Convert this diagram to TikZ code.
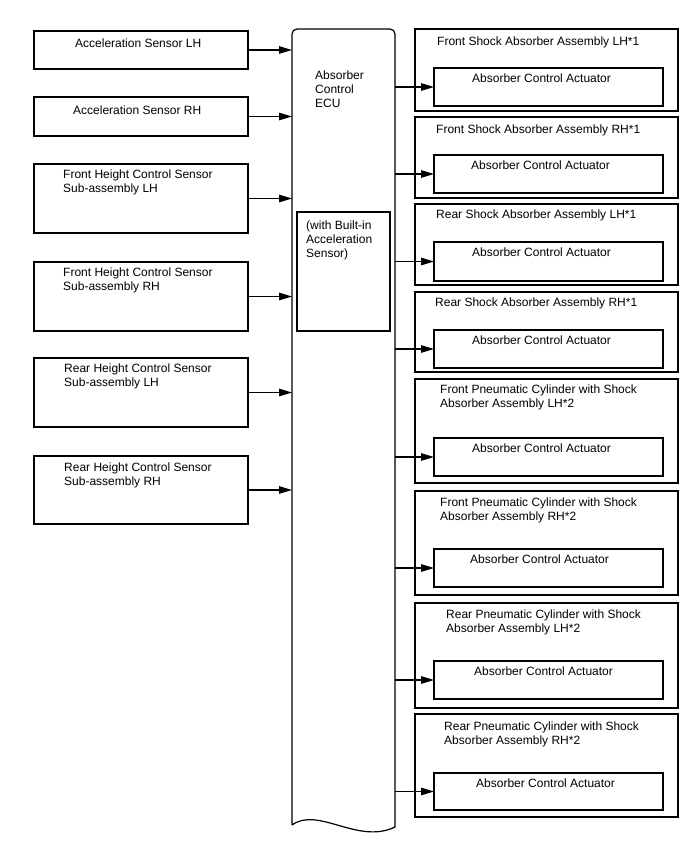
\documentclass[tikz,border=0pt]{standalone}
\usepackage{fontspec}
\setmainfont{Liberation Sans}
\usetikzlibrary{arrows.meta}
\begin{document}
\begin{tikzpicture}[x=1pt,y=-1pt,
  box/.style={draw, line width=1.2pt, anchor=north west, inner sep=0pt, outer sep=0pt},
  lbl/.style={anchor=base west, inner sep=0pt, align=left, font=\fontsize{12}{14}\selectfont},
  conn/.style={line width=1.2pt, -{Triangle[length=13pt,width=7.5pt]}}]
\useasboundingbox (0,0) rectangle (688,852);

% ECU
\node[inner sep=0pt, outer sep=0pt, minimum width=103pt, minimum height=796pt, anchor=north west] (ecu) at (292,29) {};
\coordinate (ecubr) at (395,827);
\coordinate (ecuc1) at (318,806);
\coordinate (ecuc2) at (358,845);
\draw[line width=1.2pt] (ecu.south west) [rounded corners=5pt] -- (ecu.north west) -- (ecu.north east) [sharp corners] -- (ecubr)
  .. controls (ecuc2) and (ecuc1) .. (ecu.south west);
\node[lbl] (tecu) at (315,107) {Absorber\\Control\\ECU};
\node[box, minimum width=93pt, minimum height=119pt] (bi) at (297,212) {};
\node[lbl] (tbi) at (306,257) {(with Built-in\\Acceleration\\Sensor)};

% Left boxes
\node[box, minimum width=214pt, minimum height=38pt] (L1) at (34,31) {};
\node[box, minimum width=214pt, minimum height=39pt] (L2) at (34,97) {};
\node[box, minimum width=214pt, minimum height=69pt] (L3) at (34,164) {};
\node[box, minimum width=214pt, minimum height=69pt] (L4) at (34,262) {};
\node[box, minimum width=214pt, minimum height=69pt] (L5) at (34,358) {};
\node[box, minimum width=214pt, minimum height=68pt] (L6) at (34,456) {};
\node[lbl] (tL1) at (75,47) {Acceleration Sensor LH};
\node[lbl] (tL2) at (73,114) {Acceleration Sensor RH};
\node[lbl] (tL3) at (63,192) {Front Height Control Sensor\\Sub-assembly LH};
\node[lbl] (tL4) at (63,290) {Front Height Control Sensor\\Sub-assembly RH};
\node[lbl] (tL5) at (64,386) {Rear Height Control Sensor\\Sub-assembly LH};
\node[lbl] (tL6) at (64,485) {Rear Height Control Sensor\\Sub-assembly RH};
\foreach \n in {L1,L2,L3,L4,L5,L6}
  \draw[conn] (\n.east) -- (\n.east -| ecu.west);

% Right boxes
\node[box, minimum width=263pt, minimum height=82pt] (R1) at (415,29) {};
\node[box, minimum width=263pt, minimum height=81pt] (R2) at (415,117) {};
\node[box, minimum width=263pt, minimum height=81pt] (R3) at (415,204) {};
\node[box, minimum width=263pt, minimum height=80pt] (R4) at (415,292) {};
\node[box, minimum width=263pt, minimum height=104pt] (R5) at (415,379) {};
\node[box, minimum width=263pt, minimum height=104pt] (R6) at (415,491) {};
\node[box, minimum width=263pt, minimum height=105pt] (R7) at (415,603) {};
\node[box, minimum width=263pt, minimum height=103pt] (R8) at (415,714) {};

\node[box, minimum width=229pt, minimum height=38pt] (A1) at (434,68) {};
\node[box, minimum width=229pt, minimum height=38pt] (A2) at (434,155) {};
\node[box, minimum width=229pt, minimum height=39pt] (A3) at (434,242) {};
\node[box, minimum width=229pt, minimum height=38pt] (A4) at (434,330) {};
\node[box, minimum width=229pt, minimum height=38pt] (A5) at (434,438) {};
\node[box, minimum width=229pt, minimum height=38pt] (A6) at (434,549) {};
\node[box, minimum width=229pt, minimum height=38pt] (A7) at (434,661) {};
\node[box, minimum width=229pt, minimum height=37pt] (A8) at (434,773) {};

\node[lbl] (tR1) at (437,45) {Front Shock Absorber Assembly LH*1};
\node[lbl] (tR2) at (436,133) {Front Shock Absorber Assembly RH*1};
\node[lbl] (tR3) at (436,218) {Rear Shock Absorber Assembly LH*1};
\node[lbl] (tR4) at (435,306) {Rear Shock Absorber Assembly RH*1};
\node[lbl] (tR5) at (440,407) {Front Pneumatic Cylinder with Shock\\Absorber Assembly LH*2};
\node[lbl] (tR6) at (440,520) {Front Pneumatic Cylinder with Shock\\Absorber Assembly RH*2};
\node[lbl] (tR7) at (446,632) {Rear Pneumatic Cylinder with Shock\\Absorber Assembly LH*2};
\node[lbl] (tR8) at (444,744) {Rear Pneumatic Cylinder with Shock\\Absorber Assembly RH*2};

\node[lbl] (tA1) at (472,82) {Absorber Control Actuator};
\node[lbl] (tA2) at (471,169) {Absorber Control Actuator};
\node[lbl] (tA3) at (472,256) {Absorber Control Actuator};
\node[lbl] (tA4) at (472,344) {Absorber Control Actuator};
\node[lbl] (tA5) at (472,452) {Absorber Control Actuator};
\node[lbl] (tA6) at (470,563) {Absorber Control Actuator};
\node[lbl] (tA7) at (474,675) {Absorber Control Actuator};
\node[lbl] (tA8) at (476,787) {Absorber Control Actuator};

\foreach \n in {A1,A2,A3,A4,A5,A6,A7,A8}
  \draw[conn] (ecu.east |- \n.west) -- (\n.west);
\end{tikzpicture}
\end{document}
